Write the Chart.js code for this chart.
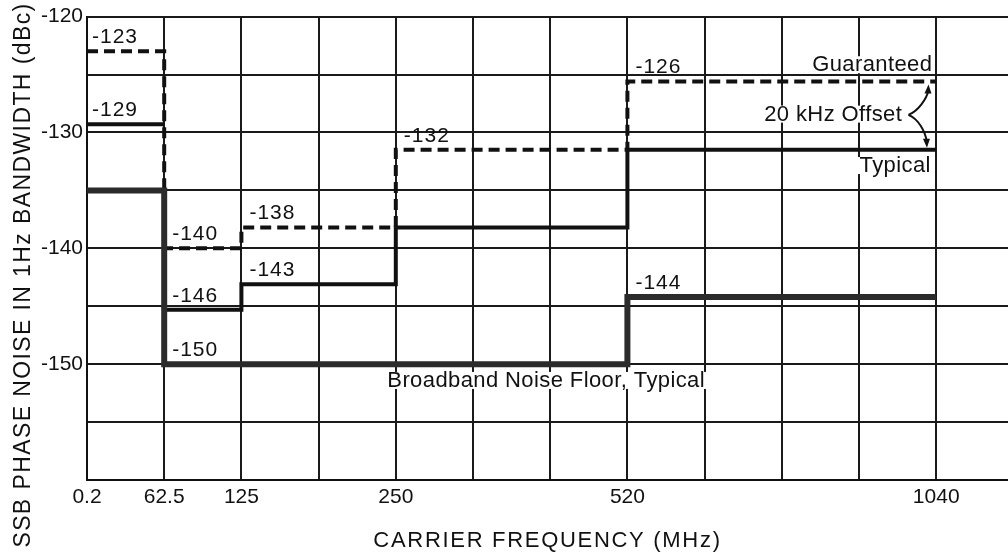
<!DOCTYPE html>
<html lang="en">
<head>
    <meta charset="UTF-8">
    <title>SSB Phase Noise</title>
    <script src="https://cdn.jsdelivr.net/npm/chart.js"></script>
    <style>
        body {
            margin: 0;
            background: #fff;
        }
    </style>
</head>
<body>
    <canvas id="noiseChart" width="1008" height="559"></canvas>
<script>
    // Frequency ticks and the grid column each one sits on
    const freqTicks = ['0.2', '62.5', '125', '250', '520', '1040'];
    const freqColumn = [0, 1, 2, 4, 7, 11];

    // Level of each band as drawn (band i runs from freqTicks[i] to freqTicks[i + 1]), dBc
    const guaranteedDbc = [-123, -140, -138.2, -131.5, -125.6];
    const typicalDbc = [-129.3, -145.3, -143.1, -138.2, -131.5];
    const floorDbc = [-135, -150, -150, -150, -144.2];

    // Printed value labels per band (null = no label)
    const guaranteedTags = ['-123', '-140', '-138', '-132', '-126'];
    const typicalTags = ['-129', '-146', '-143', null, null];
    const floorTags = [null, '-150', null, null, '-144'];

    const FONT = '"Liberation Sans", Arial, sans-serif';

    // gaps: band indices whose left step edge is not drawn
    function stepPoints(levels, gaps = []) {
        const pts = [];
        levels.forEach((v, i) => {
            if (gaps.includes(i)) {
                pts.push({ x: freqColumn[i], y: levels[i - 1] });
                pts.push({ x: freqColumn[i], y: null });
            }
            pts.push({ x: freqColumn[i], y: v });
        });
        pts.push({ x: freqColumn[levels.length], y: levels[levels.length - 1] });
        return pts;
    }

    // Free text notes, placed in axis units
    const notes = [
        { text: 'Guaranteed', col: 10.95, db: -124.2, align: 'right' },
        { text: '20 kHz Offset', col: 10.56, db: -128.46, align: 'right' },
        { text: 'Typical', col: 10.93, db: -132.9, align: 'right' },
        { text: 'Broadband Noise Floor, Typical', col: 3.89, db: -151.45, align: 'left' }
    ];

    const annotate = {
        id: 'annotate',
        afterDatasetsDraw(chart) {
            const ctx = chart.ctx;
            const xs = chart.scales.x;
            const ys = chart.scales.y;
            ctx.save();
            ctx.fillStyle = '#111';

            // value labels above each band
            ctx.font = '21px ' + FONT;
            ctx.letterSpacing = '1px';
            ctx.textAlign = 'left';
            ctx.textBaseline = 'alphabetic';
            const tagSets = [
                [guaranteedDbc, guaranteedTags],
                [typicalDbc, typicalTags],
                [floorDbc, floorTags]
            ];
            tagSets.forEach(([levels, tags]) => {
                levels.forEach((v, i) => {
                    if (!tags[i]) return;
                    const px = xs.getPixelForValue(freqColumn[i]) + (i === 0 ? 5 : 8);
                    const py = ys.getPixelForValue(v) - 8;
                    ctx.fillText(tags[i], px, py);
                });
            });

            // notes on white patches
            ctx.font = '22px ' + FONT;
            ctx.letterSpacing = '0.4px';
            ctx.textBaseline = 'middle';
            notes.forEach(n => {
                const px = xs.getPixelForValue(n.col);
                const py = ys.getPixelForValue(n.db);
                const w = ctx.measureText(n.text).width;
                const left = n.align === 'right' ? px - w : px;
                ctx.fillStyle = '#fff';
                ctx.fillRect(left - 2, py - 9, w + 4, 17);
                ctx.fillStyle = '#111';
                ctx.textAlign = n.align;
                ctx.fillText(n.text, px, py);
            });

            // brace arrows from "20 kHz Offset" to both lines
            const vx = xs.getPixelForValue(10.64);
            const vy = ys.getPixelForValue(-128.48);
            const upX = xs.getPixelForValue(10.9);
            const upY = ys.getPixelForValue(guaranteedDbc[4]) + 3;
            const dnX = xs.getPixelForValue(10.88);
            const dnY = ys.getPixelForValue(typicalDbc[4]) - 2;
            ctx.strokeStyle = '#111';
            ctx.lineWidth = 2;
            ctx.beginPath();
            ctx.moveTo(vx, vy);
            ctx.bezierCurveTo(vx + 10, vy - 4, upX - 2, vy - 16, upX, upY + 6);
            ctx.moveTo(vx, vy);
            ctx.bezierCurveTo(vx + 10, vy + 4, dnX - 2, vy + 16, dnX, dnY - 6);
            ctx.stroke();
            ctx.beginPath();
            ctx.moveTo(upX, upY);
            ctx.lineTo(upX - 4, upY + 9);
            ctx.lineTo(upX + 3, upY + 9);
            ctx.closePath();
            ctx.moveTo(dnX, dnY);
            ctx.lineTo(dnX - 4, dnY - 9);
            ctx.lineTo(dnX + 3, dnY - 9);
            ctx.closePath();
            ctx.fill();

            // axis titles
            ctx.font = '22px ' + FONT;
            ctx.letterSpacing = '1.7px';
            ctx.textAlign = 'center';
            ctx.textBaseline = 'middle';
            ctx.fillText('CARRIER FREQUENCY (MHz)', (chart.chartArea.left + chart.chartArea.right) / 2, 541);

            ctx.font = '23px ' + FONT;
            ctx.letterSpacing = '1.4px';
            ctx.translate(24, 275);
            ctx.rotate(-Math.PI / 2);
            ctx.fillText('SSB PHASE NOISE IN 1Hz BANDWIDTH (dBc)', 0, 0);
            ctx.restore();
        }
    };

    const ctx = document.getElementById('noiseChart').getContext('2d');
    const noiseChart = new Chart(ctx, {
        type: 'line',
        data: {
            datasets: [
                {
                    label: 'Broadband Noise Floor, Typical',
                    data: stepPoints(floorDbc),
                    borderColor: '#2b2b2b',
                    borderWidth: 6,
                    stepped: true,
                    pointRadius: 0
                },
                {
                    label: 'Typical',
                    data: stepPoints(typicalDbc, [1]),
                    borderColor: '#111',
                    borderWidth: 4,
                    stepped: true,
                    spanGaps: false,
                    pointRadius: 0
                },
                {
                    label: 'Guaranteed',
                    data: stepPoints(guaranteedDbc),
                    borderColor: '#111',
                    borderWidth: 4,
                    borderDash: [11, 6],
                    stepped: true,
                    pointRadius: 0
                }
            ]
        },
        options: {
            responsive: false,
            animation: false,
            layout: {
                padding: { top: 13, right: 0, bottom: 0, left: 0 }
            },
            plugins: {
                legend: { display: false },
                tooltip: { enabled: false }
            },
            scales: {
                x: {
                    type: 'linear',
                    min: 0,
                    max: 11.93,
                    afterBuildTicks: scale => {
                        scale.ticks = Array.from({ length: 12 }, (_, i) => ({ value: i }));
                    },
                    afterFit: scale => {
                        scale.height = 79;
                    },
                    grid: {
                        color: '#1a1a1a',
                        lineWidth: 2,
                        drawTicks: false
                    },
                    border: { color: '#111', width: 2 },
                    ticks: {
                        autoSkip: false,
                        maxRotation: 0,
                        padding: 5,
                        color: '#111',
                        font: { family: FONT, size: 21 },
                        callback: value => {
                            const k = freqColumn.indexOf(value);
                            return k >= 0 ? freqTicks[k] : '';
                        }
                    }
                },
                y: {
                    min: -160,
                    max: -120,
                    afterFit: scale => {
                        scale.width = 87;
                    },
                    grid: {
                        color: '#1a1a1a',
                        lineWidth: 2,
                        drawTicks: false
                    },
                    border: { color: '#111', width: 2 },
                    ticks: {
                        stepSize: 5,
                        padding: 4,
                        color: '#111',
                        font: { family: FONT, size: 21 },
                        callback: value => (value % 10 === 0 && value > -160) ? String(value) : ''
                    }
                }
            }
        },
        plugins: [annotate]
    });
</script>
</body>
</html>
